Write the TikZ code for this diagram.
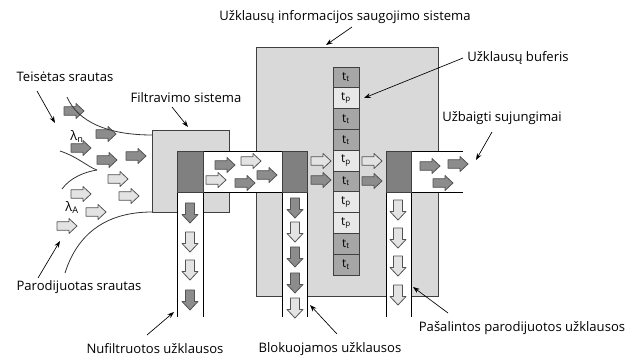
\documentclass[tikz,border=0pt]{standalone}
\usepackage{fontspec}
\setmainfont{Open Sans}
\usetikzlibrary{arrows.meta}
\definecolor{boxgray}{HTML}{D9D9D9}
\definecolor{darksq}{HTML}{808080}
\definecolor{arrdark}{HTML}{8C8C8C}
\definecolor{arrlight}{HTML}{E3E3E3}
\definecolor{cellt}{HTML}{A6A6A6}
\definecolor{cellp}{HTML}{E8E8E8}
\definecolor{edge}{HTML}{404040}
\newcommand\RA[3]{\draw[barrow,fill=#3] (#1,#2) ++(-10,-4.3) -- ++(12,0) -- ++(0,-3.2) -- ++(8,7.5) -- ++(-8,7.5) -- ++(0,-3.2) -- ++(-12,0) -- cycle;}
\newcommand\DA[3]{\draw[barrow,fill=#3] (#1,#2) ++(-4.5,-10) -- ++(9,0) -- ++(0,11.5) -- ++(3.5,0) -- ++(-8,8.5) -- ++(-8,-8.5) -- ++(3.5,0) -- cycle;}
\begin{document}
\begin{tikzpicture}[x=0.75pt,y=-0.75pt,
  barrow/.style={draw=edge!90,line width=0.6pt,line join=round},
  sysbox/.style={draw=edge,fill=boxgray,line width=0.7pt},
  dsq/.style={draw=edge,fill=darksq,line width=0.7pt},
  pipe/.style={draw=black,line width=0.7pt},
  cell/.style={draw=edge,line width=0.6pt,minimum width=19.5pt,minimum height=15.6pt,inner sep=0pt,font=\fontsize{9}{10}\selectfont},
  lbl/.style={inner sep=0pt,font=\fontsize{9.8}{11}\selectfont},
  ptr/.style={draw=black,line width=0.5pt,-{Stealth[length=5pt,width=3.6pt]}},
  crv/.style={draw=black!80,line width=0.6pt}]
\useasboundingbox (0,0) rectangle (640,356);
% system boxes
\draw[sysbox] (152,130) rectangle (229,212);
\draw[sysbox] (256,47) rectangle (438,296);
% vertical columns
\fill[white] (177,192) rectangle (203,317);
\fill[white] (282,192) rectangle (307,317);
\fill[white] (386,192) rectangle (411,317);
\draw[pipe] (177,192) -- (177,317) (203,192) -- (203,317);
\draw[pipe] (282,192) -- (282,317) (307,192) -- (307,317);
\draw[pipe] (386,192) -- (386,317) (411,192) -- (411,317);
% horizontal pipes
\fill[white] (177,151) rectangle (307,192);
\draw[pipe] (177,151) -- (307,151) (177,192) -- (307,192);
\fill[white] (386,151) rectangle (463,192);
\draw[pipe] (386,151) -- (463,151) (386,192) -- (463,192);
% dark squares
\draw[dsq] (177,151) rectangle (203,192);
\draw[dsq] (282,151) rectangle (307,192);
\draw[dsq] (386,151) rectangle (411,192);
% buffer
\foreach \i/\k/\c in {0/t/cellt,1/p/cellp,2/t/cellt,3/t/cellt,4/p/cellp,5/t/cellt,6/p/cellp,7/p/cellp,8/t/cellt,9/t/cellt}{
  \node[cell,fill=\c] (buf\i) at (346,{77.4+20.8*\i}) {t\textsubscript{\k}};
}
% incoming flow arrows
\RA{74}{111}{arrdark}
\RA{106}{134}{arrdark}
\RA{81}{148}{arrdark}
\RA{107}{160}{arrdark}
\RA{136}{156}{arrdark}
\RA{118}{179}{arrlight}
\RA{129}{196}{arrlight}
\RA{81}{194}{arrlight}
\RA{96}{212}{arrlight}
\RA{67}{226}{arrlight}
% pipe arrows
\RA{225}{165}{arrdark}
\RA{251}{161}{arrlight}
\RA{216}{180}{arrlight}
\RA{245}{183}{arrdark}
\RA{267}{175}{arrdark}
\RA{321}{161}{arrlight}
\RA{321}{180}{arrdark}
\RA{372}{161}{arrlight}
\RA{372}{181}{arrdark}
\RA{430}{166}{arrdark}
\RA{458}{164}{arrdark}
\RA{443}{183}{arrdark}
% down arrows
\DA{190}{213}{arrdark}
\DA{190}{242}{arrlight}
\DA{190}{270}{arrlight}
\DA{190}{300}{arrdark}
\DA{295}{208}{arrdark}
\DA{295}{232}{arrlight}
\DA{295}{257}{arrdark}
\DA{295}{283}{arrdark}
\DA{295}{308}{arrlight}
\DA{398}{210}{arrlight}
\DA{398}{238}{arrlight}
\DA{398}{266}{arrlight}
\DA{398}{295}{arrlight}
% flow curves
\draw[crv] (67,97) .. controls (78,122) and (108,135) .. (152,135);
\draw[crv] (60,151) .. controls (78,157) and (88,167) .. (97,170);
\draw[crv] (97,170) .. controls (84,172) and (70,178) .. (62,189);
\draw[crv] (65,273) .. controls (78,232) and (108,212) .. (152,212);
% lambda labels
\node[lbl] (ln) at (77,136) {λ\textsubscript{n}};
\node[lbl] (la) at (72,207) {λ\textsubscript{A}};
% labels
\node[lbl] (te) at (65,77) {Teisėtas srautas};
\node[lbl] (fi) at (186,98) {Filtravimo sistema};
\node[lbl] (uz) at (345,17) {Užklausų informacijos saugojimo sistema};
\node[lbl,anchor=west] (bu) at (467,58) {Užklausų buferis};
\node[lbl] (ub) at (502,118) {Užbaigti sujungimai};
\node[lbl] (pa) at (79,287) {Parodijuotas srautas};
\node[lbl] (nu) at (155,349) {Nufiltruotos užklausos};
\node[lbl] (bl) at (330,349) {Blokuojamos užklausos};
\node[lbl] (ps) at (522,328) {Pašalintos parodijuotos užklausos};
% pointer coordinates
\coordinate (teA) at (37,91);   \coordinate (teB) at (55,123);
\coordinate (fiA) at (172,107); \coordinate (fiB) at (188,127);
\coordinate (uzA) at (352,27);  \coordinate (uzB) at (326,45);
\coordinate (buA) at (463,58);  \coordinate (buB) at (364,98);
\coordinate (ubA) at (492,132); \coordinate (ubB) at (476,160);
\coordinate (paA) at (38,278);  \coordinate (paB) at (60,241);
\coordinate (nuA) at (147,335); \coordinate (nuB) at (174,312);
\coordinate (blA) at (337,334); \coordinate (blB) at (310,305);
\coordinate (psA) at (448,313); \coordinate (psB) at (413,287);
\foreach \p in {te,fi,uz,bu,ub,pa,nu,bl,ps}{\draw[ptr] (\p A) -- (\p B);}
\end{tikzpicture}
\end{document}
